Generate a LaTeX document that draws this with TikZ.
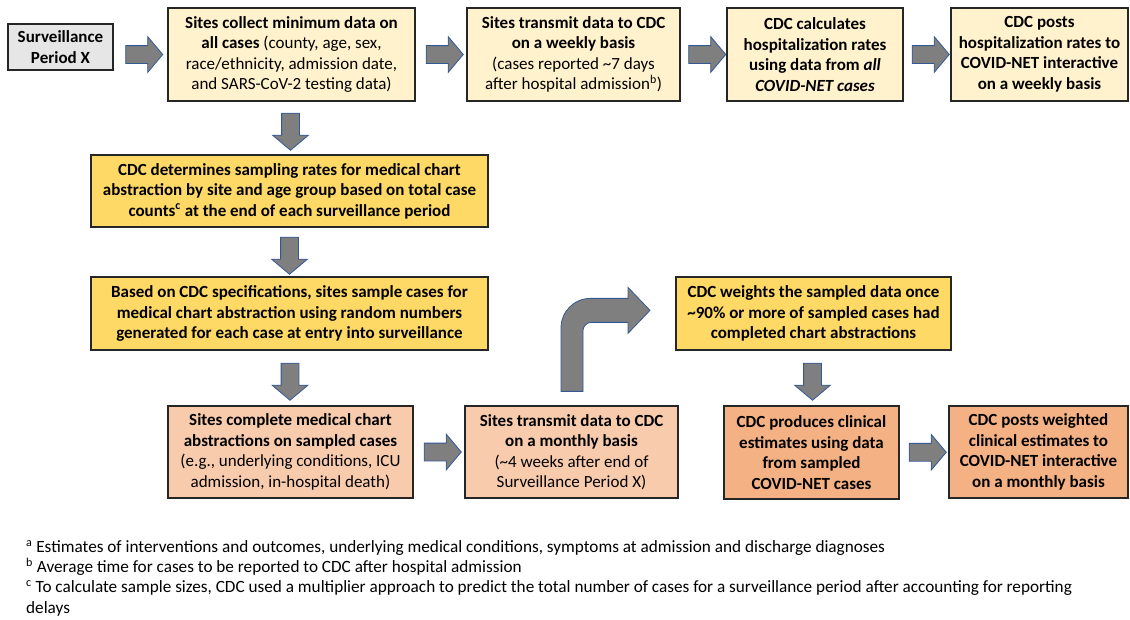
\documentclass[tikz,border=0pt]{standalone}
\usepackage{fontspec}
\setmainfont{Carlito}
\newfontfamily\notefont{Carlito}
\usetikzlibrary{shapes.arrows, calc, positioning}
\definecolor{cPeriod}{RGB}{231, 230, 230}
\definecolor{cWeekly}{RGB}{255, 242, 204}
\definecolor{cSample}{RGB}{255, 217, 102}
\definecolor{cChart}{RGB}{248, 203, 173}
\definecolor{cEstim}{RGB}{244, 177, 131}
\definecolor{cArrow}{RGB}{127, 127, 127}
\definecolor{cArrowLine}{RGB}{52, 88, 150}
\tikzset{
    % process boxes
    stepBox/.style={
        rectangle, draw=black!85, line width=1.3pt,
        align=center, inner sep=2pt,
        font=\bfseries\fontsize{17}{20.5}\selectfont
    },
    % block arrows between boxes
    blockArrow/.style={
        single arrow, draw=cArrowLine, fill=cArrow, line width=0.8pt,
        minimum height=37pt, inner sep=0pt, inner ysep=8.5pt,
        single arrow head extend=9pt, single arrow tip angle=100
    },
    downArrow/.style={blockArrow, rotate=-90},
    % footnotes
    noteText/.style={
        align=left, inner sep=0pt,
        font=\notefont\fontsize{17.2}{20.3}\selectfont
    }
}

\begin{document}
\begin{tikzpicture}[x=1pt, y=-1pt]
	\useasboundingbox (0,0) rectangle (1130,619);

	% 1. weekly path (top row)
	\node[stepBox, fill=cPeriod, minimum width=105pt, minimum height=46pt] (period) at (60.5,47) {
		Surveillance\\Period X
	};
	\node[stepBox, fill=cWeekly, minimum width=247pt, minimum height=93pt] (collect) at (291.5,54.5) {
		Sites collect minimum data on\\
		all cases \mdseries(county, age, sex,\\
		\mdseries race/ethnicity, admission date,\\
		\mdseries and SARS-CoV-2 testing data)
	};
	\node[stepBox, fill=cWeekly, minimum width=213pt, minimum height=93pt] (weekly) at (573.5,54.5) {
		Sites transmit data to CDC\\
		on a weekly basis\\
		\mdseries(cases reported \textasciitilde7 days\\
		\mdseries after hospital admission\textsuperscript{b})
	};
	\node[stepBox, fill=cWeekly, minimum width=176pt, minimum height=93pt] (calc) at (815,54.5) {
		CDC calculates\\
		hospitalization rates\\
		using data from \itshape all\\
		\itshape COVID-NET cases
	};
	\node[stepBox, fill=cWeekly, minimum width=177pt, minimum height=93pt] (postWeekly) at (1039.5,54.5) {
		CDC posts\\
		hospitalization rates to\\
		COVID-NET interactive\\
		on a weekly basis
	};

	\node[blockArrow] (a1) at ($(period.east |- collect.west)!0.5!(collect.west)$) {};
	\node[blockArrow] (a2) at ($(collect.east)!0.5!(weekly.west)$) {};
	\node[blockArrow] (a3) at ($(weekly.east)!0.5!(calc.west)$) {};
	\node[blockArrow] (a4) at ($(calc.east)!0.5!(postWeekly.west)$) {};

	% 2. sampling (middle column)
	\node[stepBox, fill=cSample, minimum width=397pt, minimum height=72pt] (rates) at (289.5,191) {
		CDC determines sampling rates for medical chart\\
		abstraction by site and age group based on total case\\
		counts\textsuperscript{c} at the end of each surveillance period
	};
	\node[stepBox, fill=cSample, minimum width=397pt, minimum height=73pt] (sample) at (289.5,313.5) {
		Based on CDC specifications, sites sample cases for\\
		medical chart abstraction using random numbers\\
		generated for each case at entry into surveillance
	};

	\node[downArrow] (d1) at ($(collect.south)!0.5!(rates.north)$) {};
	\node[downArrow] (d2) at ($(rates.south)!0.5!(sample.north)$) {};

	% 3. monthly path (bottom row)
	\node[stepBox, fill=cChart, minimum width=245pt, minimum height=92pt] (abstract) at (290.5,452) {
		Sites complete medical chart\\
		abstractions on sampled cases\\
		\mdseries(e.g., underlying conditions, ICU\\
		\mdseries admission, in-hospital death)
	};
	\node[stepBox, fill=cChart, minimum width=213pt, minimum height=92pt] (monthly) at (571.5,452) {
		Sites transmit data to CDC\\
		on a monthly basis\\
		\mdseries(\textasciitilde4 weeks after end of\\
		\mdseries Surveillance Period X)
	};
	\node[stepBox, fill=cSample, minimum width=275pt, minimum height=73pt] (weights) at (813.5,313.5) {
		CDC weights the sampled data once\\
		\textasciitilde90\% or more of sampled cases had\\
		completed chart abstractions
	};
	\node[stepBox, fill=cEstim, minimum width=175pt, minimum height=93pt] (estimates) at (811.5,452.5) {
		CDC produces clinical\\
		estimates using data\\
		from sampled\\
		COVID-NET cases
	};
	\node[stepBox, fill=cEstim, minimum width=179pt, minimum height=92pt] (postMonthly) at (1038.5,452) {
		CDC posts weighted\\
		clinical estimates to\\
		COVID-NET interactive\\
		on a monthly basis
	};

	\node[downArrow] (d3) at ($(sample.south)!0.5!(abstract.north)$) {};
	\node[blockArrow] (a5) at ($(abstract.east)!0.5!(monthly.west)$) {};
	\node[downArrow] (d4) at ($(weights.south)!0.5!(estimates.north)$) {};
	\node[blockArrow] (a6) at ($(estimates.east)!0.5!(postMonthly.west)$) {};

	% bent arrow: monthly -> weights
	\coordinate (bendFoot) at ($(monthly.north)+(0.5,-14)$);
	\begin{scope}[shift={(bendFoot)}]
		\filldraw[draw=cArrowLine, fill=cArrow, line width=0.8pt]
			(-11,0) -- (-11,-63) .. controls (-11,-80) and (2,-93) .. (19,-93)
			-- (56,-93) -- (56,-104) -- (78,-81) -- (56,-58) -- (56,-69)
			-- (19,-69) .. controls (15,-69) and (11,-65) .. (11,-61)
			-- (11,0) -- cycle;
	\end{scope}

	% 4. footnotes
	\node[noteText, anchor=north west] (notes) at (26,540) {
		\textsuperscript{a} Estimates of interventions and outcomes, underlying medical conditions, symptoms at admission and discharge diagnoses\\
		\textsuperscript{b} Average time for cases to be reported to CDC after hospital admission\\
		\textsuperscript{c} To calculate sample sizes, CDC used a multiplier approach to predict the total number of cases for a surveillance period after accounting for reporting\\
		delays
	};

\end{tikzpicture}
\end{document}
